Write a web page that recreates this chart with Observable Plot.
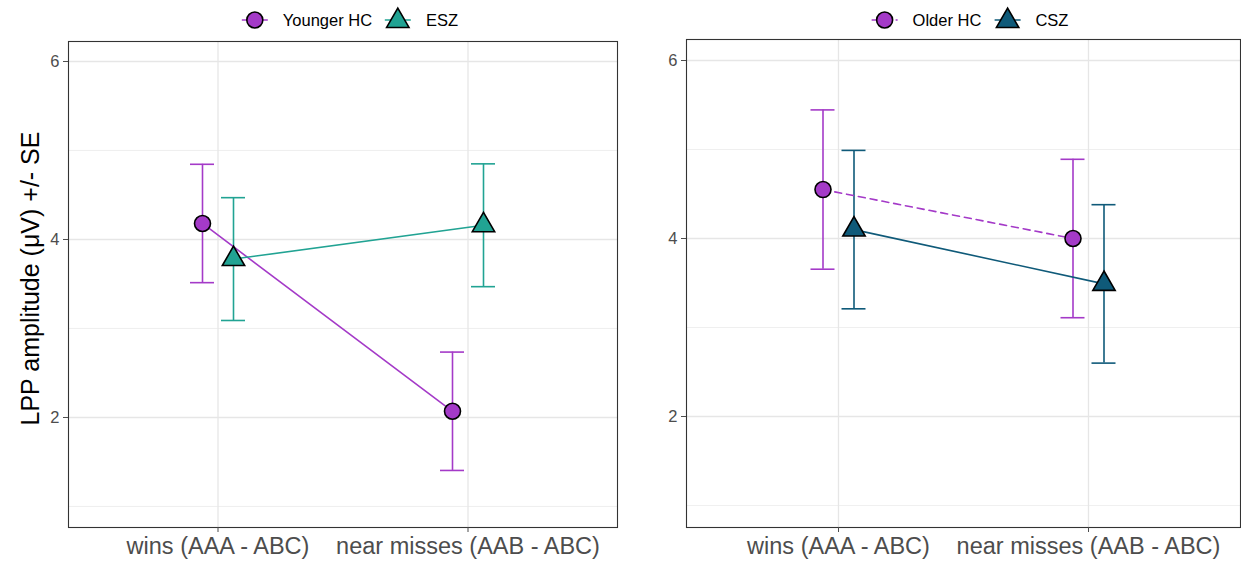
<!DOCTYPE html>
<html><head><meta charset="utf-8">
<script src="https://cdn.jsdelivr.net/npm/d3@7"></script>
<script src="https://cdn.jsdelivr.net/npm/@observablehq/plot@0.6"></script>
<style>
html,body{margin:0;padding:0;background:#fff;}
body{font-family:"Liberation Sans",Arial,Helvetica,sans-serif;}
#wrap{position:relative;width:1241px;height:563px;overflow:hidden;background:#fff;}
.panel{position:absolute;top:0;}
.legend{position:relative;}
.legend .items{position:absolute;display:flex;align-items:center;white-space:nowrap;transform:translate(-50%,-50%);font-size:16.5px;color:#000;}
.legend svg{display:block;overflow:visible;}
.legend .lab{margin-left:15px;margin-right:13px;}
.legend .lab:last-child{margin-right:0;}
.panel > svg{display:block;}
</style></head>
<body><div id="wrap"></div>
<script>
// ---- data ----
const conditions = ["wins (AAA - ABC)", "near misses (AAB - ABC)"];
const yTicks = [2, 4, 6];
const yMinorTicks = [1, 3, 5];
const yTitle = "LPP amplitude (\u03bcV) +/- SE";

const leftGroups = ["Younger HC", "ESZ"];
const youngerHC_mean = [4.18, 2.07];
const youngerHC_se = [0.665, 0.665];
const esz_mean = [3.78, 4.16];
const esz_se = [0.69, 0.69];

const rightGroups = ["Older HC", "CSZ"];
const olderHC_mean = [4.55, 4.00];
const olderHC_se = [0.895, 0.89];
const csz_mean = [4.10, 3.49];
const csz_se = [0.89, 0.89];

// ---- styles ----
const purple = "#a43ac8", teal = "#21a393", navy = "#0f5a79";
const FONT = "'Liberation Sans', Arial, Helvetica, sans-serif";

function rowsFor(groups, means, ses) {
  const rows = [];
  groups.forEach((g, gi) => conditions.forEach((c, ci) => rows.push({group: g, condition: c, mean: means[gi][ci], se: ses[gi][ci]})));
  return rows;
}

function triPath(r) { return d3.symbol(d3.symbolTriangle, Math.PI * r * r)(); }

function makeLegend(groups, colors, symbols, dashes, centerX, centerY, height) {
  const leg = document.createElement("div");
  leg.className = "legend";
  leg.style.height = height + "px";
  const items = document.createElement("div");
  items.className = "items";
  items.style.left = centerX + "px";
  items.style.top = centerY + "px";
  groups.forEach((g, i) => {
    const ns = "http://www.w3.org/2000/svg";
    const s = document.createElementNS(ns, "svg");
    s.setAttribute("width", 26); s.setAttribute("height", 22);
    const ln = document.createElementNS(ns, "line");
    ln.setAttribute("x1", 0); ln.setAttribute("x2", 26); ln.setAttribute("y1", 11); ln.setAttribute("y2", 11);
    ln.setAttribute("stroke", colors[i]); ln.setAttribute("stroke-width", 1.5);
    if (dashes[i]) ln.setAttribute("stroke-dasharray", dashes[i]);
    s.appendChild(ln);
    let sym;
    if (symbols[i] === "circle") {
      sym = document.createElementNS(ns, "circle");
      sym.setAttribute("cx", 13); sym.setAttribute("cy", 11); sym.setAttribute("r", 8);
    } else {
      sym = document.createElementNS(ns, "path");
      sym.setAttribute("d", triPath(8.3));
      sym.setAttribute("transform", "translate(13,12)");
    }
    sym.setAttribute("fill", colors[i]); sym.setAttribute("stroke", "#000"); sym.setAttribute("stroke-width", 1.6);
    s.appendChild(sym);
    items.appendChild(s);
    const t = document.createElement("span");
    t.className = "lab"; t.textContent = g;
    items.appendChild(t);
  });
  leg.appendChild(items);
  return leg;
}

function makePanel(opts) {
  const {left, width, marginLeft, marginRight, frameTop, frameBottom, yDomain, groups, means, ses, colors, symbols, dashes, showTitle, legendX} = opts;
  const div = document.createElement("div");
  div.className = "panel";
  div.style.left = left + "px";
  div.style.width = width + "px";
  const legendH = frameTop - 4;
  div.appendChild(makeLegend(groups, colors, symbols, dashes, legendX, 20, legendH));

  const rows = rowsFor(groups, means, ses);
  const frameW = width - marginLeft - marginRight;
  const step = 250;
  const pad = frameW / step - 2;
  const bw = step * (1 - pad);
  const capHalf = 12;
  const inset = bw / 2 - capHalf;
  const offsets = [-15.5, 15.5];

  const marks = [
    Plot.gridY(yMinorTicks, {stroke: "#ebebeb", strokeOpacity: 1, strokeWidth: 0.8}),
    Plot.gridY(yTicks, {stroke: "#e6e6e6", strokeOpacity: 1, strokeWidth: 1.3}),
    Plot.gridX(conditions, {stroke: "#e6e6e6", strokeOpacity: 1, strokeWidth: 1.3}),
  ];
  groups.forEach((g, gi) => {
    const d = rows.filter(r => r.group === g);
    marks.push(
      Plot.ruleX(d, {x: "condition", y1: r => r.mean - r.se, y2: r => r.mean + r.se, stroke: colors[gi], strokeWidth: 1.6, dx: offsets[gi]}),
      Plot.tickY(d, {x: "condition", y: r => r.mean - r.se, stroke: colors[gi], strokeWidth: 1.6, dx: offsets[gi], insetLeft: inset, insetRight: inset}),
      Plot.tickY(d, {x: "condition", y: r => r.mean + r.se, stroke: colors[gi], strokeWidth: 1.6, dx: offsets[gi], insetLeft: inset, insetRight: inset})
    );
  });
  groups.forEach((g, gi) => {
    const d = rows.filter(r => r.group === g);
    marks.push(Plot.line(d, {x: "condition", y: "mean", stroke: colors[gi], strokeWidth: 1.6, dx: offsets[gi], strokeDasharray: dashes[gi] || null}));
  });
  groups.forEach((g, gi) => {
    const d = rows.filter(r => r.group === g);
    marks.push(Plot.dot(d, {x: "condition", y: "mean", r: symbols[gi] === "circle" ? 8 : 8.3, symbol: symbols[gi], fill: colors[gi], stroke: "#000", strokeWidth: 1.6, dx: offsets[gi]}));
  });
  marks.push(
    Plot.frame({stroke: "#333", strokeWidth: 1.1}),
    Plot.axisY({ticks: yTicks, tickFormat: d3.format("d"), tickSize: 5, tickPadding: 4, fontSize: 16.5, color: "#4d4d4d", label: null}),
    Plot.axisX({tickSize: 5, tickPadding: 5, fontSize: 23.5, color: "#4d4d4d", label: null})
  );
  if (showTitle) marks.push(Plot.text([yTitle], {frameAnchor: "left", textAnchor: "middle", dx: -38, dy: -6, rotate: -90, fontSize: 25, fill: "#000", text: d => d}));

  const svgH = 563 - legendH;
  const chart = Plot.plot({
    width, height: svgH,
    marginLeft, marginRight,
    marginTop: frameTop - legendH,
    marginBottom: 563 - frameBottom,
    style: {fontFamily: FONT, background: "#fff", overflow: "visible"},
    x: {type: "band", domain: conditions, padding: pad, round: false, axis: null},
    y: {domain: yDomain, axis: null, round: false},
    marks
  });
  div.appendChild(chart);
  return div;
}

const wrap = document.getElementById("wrap");
wrap.appendChild(makePanel({
  left: 0, width: 620, marginLeft: 68, marginRight: 3,
  frameTop: 41, frameBottom: 527, yDomain: [0.764, 6.2247],
  groups: leftGroups, means: [youngerHC_mean, esz_mean], ses: [youngerHC_se, esz_se],
  colors: [purple, teal], symbols: ["circle", "triangle"], dashes: [null, null],
  showTitle: true, legendX: 350
}));
wrap.appendChild(makePanel({
  left: 620, width: 621, marginLeft: 66, marginRight: 1,
  frameTop: 39, frameBottom: 527, yDomain: [0.753, 6.236],
  groups: rightGroups, means: [olderHC_mean, csz_mean], ses: [olderHC_se, csz_se],
  colors: [purple, navy], symbols: ["circle", "triangle"], dashes: ["7,5", null],
  showTitle: false, legendX: 350
}));
</script>
</body></html>
